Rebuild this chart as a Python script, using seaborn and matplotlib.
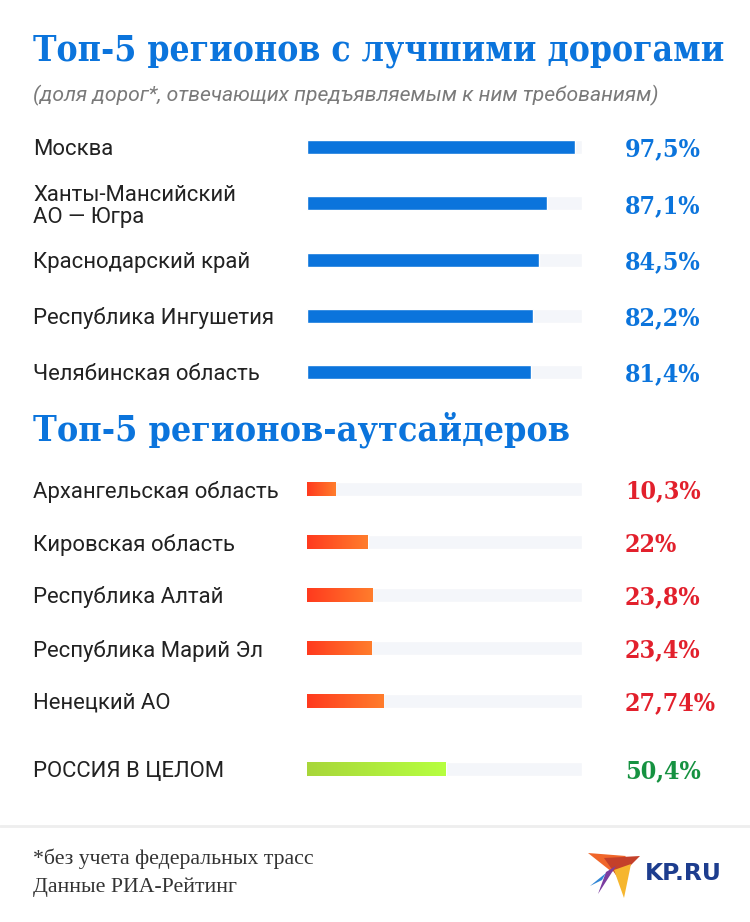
import numpy as np
import pandas as pd
import matplotlib
matplotlib.use("Agg")
import matplotlib.pyplot as plt
import seaborn as sns
from matplotlib.transforms import blended_transform_factory as btf
from matplotlib.colors import LinearSegmentedColormap
from matplotlib.patches import Polygon
from matplotlib.lines import Line2D

# ---------------- data ----------------
best_regions = ["Москва", "Ханты-Мансийский\nАО — Югра", "Краснодарский край",
                "Республика Ингушетия", "Челябинская область"]
best_values = [97.5, 87.1, 84.5, 82.2, 81.4]
best_labels = ["97,5%", "87,1%", "84,5%", "82,2%", "81,4%"]

worst_regions = ["Архангельская область", "Кировская область", "Республика Алтай",
                 "Республика Марий Эл", "Ненецкий АО"]
worst_values = [10.3, 22.0, 23.8, 23.4, 27.74]
worst_labels = ["10,3%", "22%", "23,8%", "23,4%", "27,74%"]

russia_region = ["РОССИЯ В ЦЕЛОМ"]
russia_value = [50.4]
russia_label = ["50,4%"]

title_best = "Топ-5 регионов с лучшими дорогами"
subtitle = "(доля дорог*, отвечающих предъявляемым к ним требованиям)"
title_worst = "Топ-5 регионов-аутсайдеров"
footnote = "*без учета федеральных трасс"
source = "Данные РИА-Рейтинг"

# ---------------- style ----------------
sns.set_theme(style="white")
plt.rcParams["font.family"] = ["Roboto", "DejaVu Sans"]

W, H = 750, 922
BLUE = "#0b74dc"
RED = "#e2202c"
GREEN = "#169241"
TRACK = "#f4f6fa"
LABEL = "#222222"

fig = plt.figure(figsize=(W / 100, H / 100), dpi=100)
fig.patch.set_facecolor("white")


def px_axes(left, top, right, bottom):
    return fig.add_axes([left / W, 1 - bottom / H, (right - left) / W, (bottom - top) / H])


def fit_size(s, target_px, **kw):
    t = fig.text(0, 0, s, fontsize=20, **kw)
    r = fig.canvas.get_renderer()
    w = t.get_window_extent(r).width
    t.remove()
    return 20 * target_px / w


SERIF_B = dict(family=["DejaVu Serif"], weight="bold", stretch="condensed")
label_fs = fit_size("Республика Ингушетия", 241, family=["Roboto"])
value_fs = fit_size("97,5%", 76, **SERIF_B)


def bar_panel(ax, regions, values, labels, color, vcolor, bar_h, cmap=None):
    n = len(values)
    df = pd.DataFrame({"region": regions, "value": values, "track": [100] * n})
    sns.barplot(data=df, x="track", y="region", color=TRACK, width=bar_h,
                saturation=1, ax=ax, errorbar=None)
    sns.barplot(data=df, x="value", y="region", color=color, width=bar_h,
                saturation=1, ax=ax, errorbar=None)
    if cmap is not None:
        grad = np.linspace(0, 1, 256).reshape(1, -1)
        for p in ax.patches[n:]:
            x0, y0 = p.get_x(), p.get_y()
            x1, y1 = x0 + p.get_width(), y0 + p.get_height()
            im = ax.imshow(grad, extent=[x0, x1, y1, y0], cmap=cmap,
                           aspect="auto", zorder=p.get_zorder() + 0.1)
            im.set_clip_path(p)
    ax.set_xlim(0, 100)
    ax.set_ylim(n - 0.5, -0.5)
    ax.axis("off")
    tr = btf(fig.transFigure, ax.transData)
    for i, (r, lab) in enumerate(zip(regions, labels)):
        ax.text(33 / W, i, r, transform=tr, ha="left", va="center_baseline",
                fontsize=label_fs, color=LABEL, family=["Roboto"], linespacing=1.05)
        ax.text(625 / W, i, lab, transform=tr, ha="left", va="center_baseline",
                fontsize=value_fs, color=vcolor, **SERIF_B)


red_cmap = LinearSegmentedColormap.from_list("red", ["#ff3a1e", "#ff7d2c"])
green_cmap = LinearSegmentedColormap.from_list("green", ["#a8d63a", "#b6ff40"])

# top panel: centres 147 .. 372
ax1 = px_axes(307, 147 - 28.125, 582, 372 + 28.125)
bar_panel(ax1, best_regions, best_values, best_labels, BLUE, BLUE, 14 / 56.25)

# bottom panel: centres 489 .. 701
ax2 = px_axes(307, 489 - 26.5, 582, 701 + 26.5)
bar_panel(ax2, worst_regions, worst_values, worst_labels, "#ff5a25", RED, 14 / 53, red_cmap)

# Russia row: centre 769
ax3 = px_axes(307, 769 - 26.5, 582, 769 + 26.5)
bar_panel(ax3, russia_region, russia_value, russia_label, "#b0ea3c", GREEN, 14 / 53, green_cmap)

# ---------------- titles ----------------
def fy(px):
    return 1 - px / H

fs = fit_size(title_best, 690, **SERIF_B)
fig.text(33 / W, fy(60), title_best, fontsize=fs, color=BLUE, ha="left", va="baseline", **SERIF_B)
fs = fit_size(subtitle, 622, family=["Roboto"], style="italic")
fig.text(33 / W, fy(101), subtitle, fontsize=fs, color="#7a7a7a", ha="left", va="baseline",
         family=["Roboto"], style="italic")
fs = fit_size(title_worst, 537, **SERIF_B)
fig.text(33 / W, fy(440), title_worst, fontsize=fs, color=BLUE, ha="left", va="baseline", **SERIF_B)

# ---------------- footer ----------------
fig.add_artist(Line2D([0, 1], [fy(826), fy(826)], transform=fig.transFigure,
                      color="#eeeeee", lw=2))
fs = fit_size(footnote, 280, family=["Liberation Serif"])
fig.text(33 / W, fy(864), footnote, fontsize=fs, color="#333333", ha="left", va="baseline",
         family=["Liberation Serif"])
fig.text(33 / W, fy(892), source, fontsize=fs, color="#333333", ha="left", va="baseline",
         family=["Liberation Serif"])

# logo
def poly(pts, color):
    fig.add_artist(Polygon([(x / W, fy(y)) for x, y in pts], closed=True,
                           transform=fig.transFigure, facecolor=color, edgecolor="none"))

poly([(588, 853), (626, 856), (612, 872)], "#f0662a")
poly([(604, 858), (640, 856), (618, 878)], "#c4402a")
poly([(614, 870), (631, 864), (624, 898)], "#f6b62e")
poly([(606, 872), (616, 866), (598, 894)], "#7b3da0")
poly([(590, 886), (606, 873), (602, 880)], "#2f86d6")

fs = fit_size("KP.RU", 77, family=["DejaVu Sans"], weight="heavy")
fig.text(645 / W, fy(873), "KP.RU", fontsize=fs, color="#1d3d8e", ha="left", va="center",
         family=["DejaVu Sans"], weight="heavy")

fig.savefig("out.png", dpi=100, facecolor="white")
